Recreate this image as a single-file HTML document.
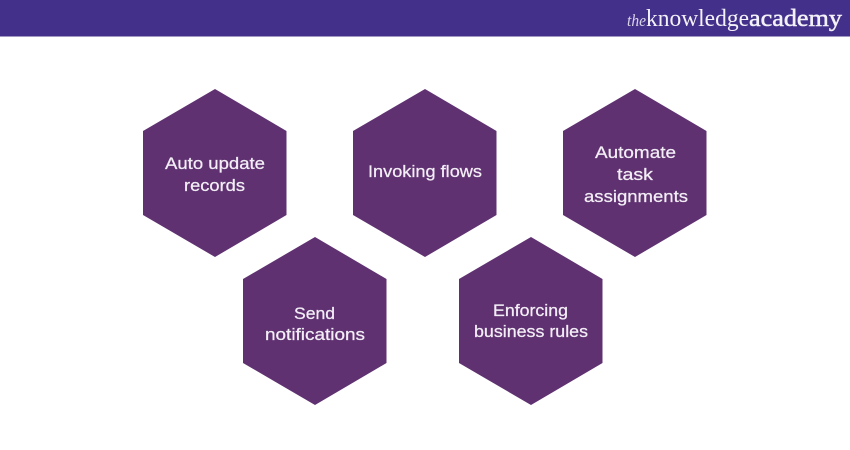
<!DOCTYPE html>
<html>
<head>
<meta charset="utf-8">
<style>
html,body{margin:0;padding:0;background:#fff;width:850px;height:450px;overflow:hidden}
svg{display:block}
.t{font-family:"Liberation Sans",sans-serif;font-size:17px;fill:#f3eef6;stroke:#f3eef6;stroke-width:.25px}
.l{font-family:"Liberation Serif",serif;fill:#f4f2f9}
</style>
</head>
<body>
<svg width="850" height="450" viewBox="0 0 850 450" xmlns="http://www.w3.org/2000/svg">
<rect x="0" y="0" width="850" height="36.5" fill="#43308a"/>
<text class="l" x="627" y="26" font-size="17" font-style="italic" textLength="19" lengthAdjust="spacingAndGlyphs" opacity="0.85">the</text>
<text class="l" x="646" y="26" font-size="24" textLength="103" lengthAdjust="spacingAndGlyphs">knowledge</text>
<text class="l" x="749" y="26" font-size="24" stroke="#f4f2f9" stroke-width="0.5" textLength="93" lengthAdjust="spacingAndGlyphs">academy</text>

<g fill="#5f3171">
<polygon points="215,89 286.5,131 286.5,215 215,257 143,215 143,131"/>
<polygon points="425,89 496.5,131 496.5,215 425,257 353,215 353,131"/>
<polygon points="635,89 706.5,131 706.5,215 635,257 563,215 563,131"/>
<polygon points="315,237 386.5,279 386.5,363 315,405 243,363 243,279"/>
<polygon points="531,237 602.5,279 602.5,363 531,405 459,363 459,279"/>
</g>

<text class="t" x="165" y="169" textLength="100" lengthAdjust="spacingAndGlyphs">Auto update</text>
<text class="t" x="184" y="191" textLength="61" lengthAdjust="spacingAndGlyphs">records</text>
<text class="t" x="368" y="177" textLength="114" lengthAdjust="spacingAndGlyphs">Invoking flows</text>
<text class="t" x="595" y="158" textLength="81" lengthAdjust="spacingAndGlyphs">Automate</text>
<text class="t" x="617" y="180" textLength="36" lengthAdjust="spacingAndGlyphs">task</text>
<text class="t" x="584" y="202" textLength="104" lengthAdjust="spacingAndGlyphs">assignments</text>
<text class="t" x="294" y="319" textLength="41" lengthAdjust="spacingAndGlyphs">Send</text>
<text class="t" x="265" y="340" textLength="100" lengthAdjust="spacingAndGlyphs">notifications</text>
<text class="t" x="493" y="316" textLength="75" lengthAdjust="spacingAndGlyphs">Enforcing</text>
<text class="t" x="474" y="337" textLength="114" lengthAdjust="spacingAndGlyphs">business rules</text>
</svg>
</body>
</html>
